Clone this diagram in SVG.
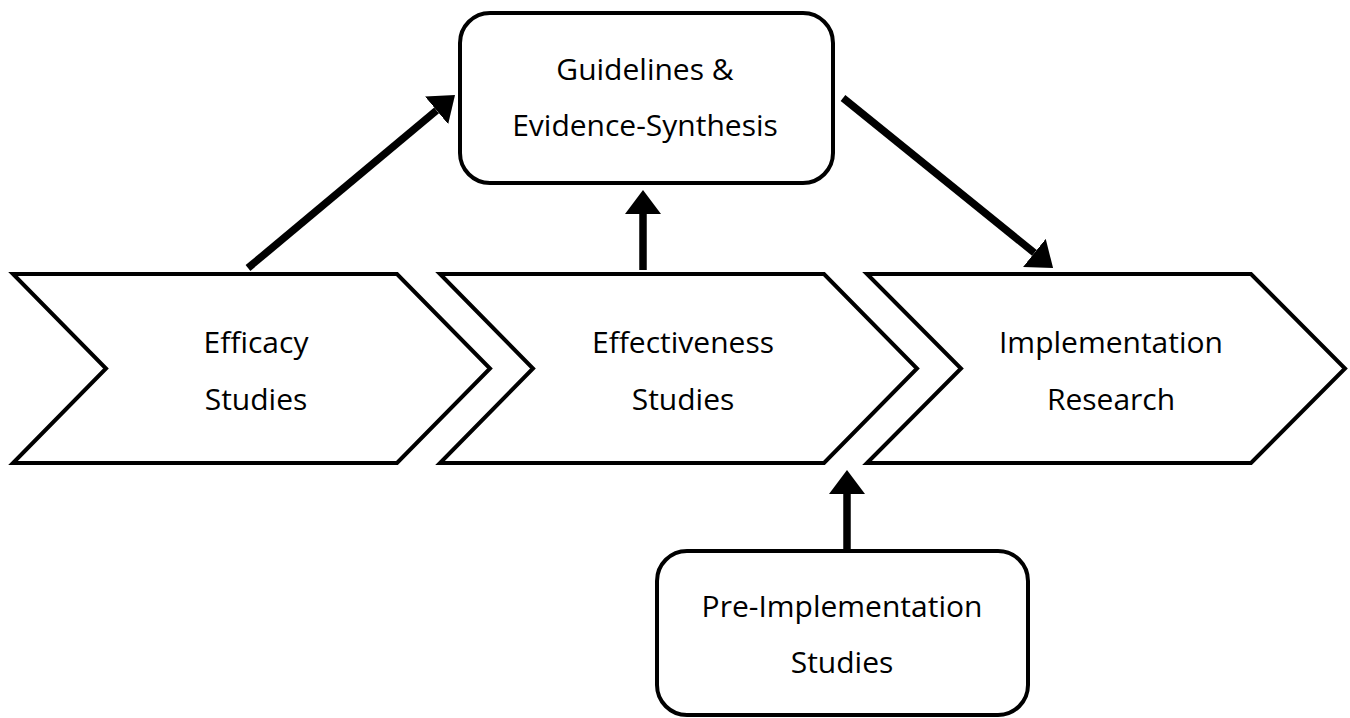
<svg xmlns="http://www.w3.org/2000/svg" width="1350" height="718" viewBox="0 0 1350 718">
<style>
.shape{fill:#fff;stroke:#000;stroke-width:4;stroke-linejoin:miter}
.box{fill:#fff;stroke:#000;stroke-width:4}
.lbl{font-family:"Open Sans","Liberation Sans",sans-serif;font-size:30px;fill:#000;text-anchor:middle}
.conn{stroke:#000;stroke-width:7.5;fill:none}
</style>
<defs>
<marker id="ah" markerUnits="userSpaceOnUse" viewBox="0 0 24 36" markerWidth="24" markerHeight="36" refX="0" refY="18" orient="auto">
<path d="M0,0 L24,18 L0,36 z" fill="#000"/>
</marker>
</defs>
<rect width="1350" height="718" fill="#fff"/>
<g id="efficacy">
<polygon class="shape" points="13,274 397,274 490,368.5 397,463 13,463 106,368.5"/>
<text class="lbl" x="256" y="353">Efficacy</text>
<text class="lbl" x="256" y="410">Studies</text>
</g>
<g id="effectiveness">
<polygon class="shape" points="440,274 824,274 917,368.5 824,463 440,463 533,368.5"/>
<text class="lbl" x="683" y="353">Effectiveness</text>
<text class="lbl" x="683" y="410">Studies</text>
</g>
<g id="implementation">
<polygon class="shape" points="867,274 1251,274 1345,368.5 1251,463 867,463 961,368.5"/>
<text class="lbl" x="1111" y="353">Implementation</text>
<text class="lbl" x="1111" y="410">Research</text>
</g>
<g id="guidelines">
<rect class="box" x="460" y="13" width="373" height="170" rx="30" ry="30"/>
<text class="lbl" x="645" y="80">Guidelines &amp;</text>
<text class="lbl" x="645" y="136">Evidence-Synthesis</text>
</g>
<g id="preimplementation">
<rect class="box" x="657" y="551" width="371" height="164" rx="30" ry="30"/>
<text class="lbl" x="842" y="617">Pre-Implementation</text>
<text class="lbl" x="842" y="673">Studies</text>
</g>
<g id="connectors">
<line class="conn" x1="248" y1="268" x2="436.6" y2="110.4" marker-end="url(#ah)"/>
<line class="conn" x1="643" y1="270" x2="643" y2="214" marker-end="url(#ah)"/>
<line class="conn" x1="843" y1="98" x2="1034.4" y2="252.9" marker-end="url(#ah)"/>
<line class="conn" x1="847" y1="550" x2="847" y2="494" marker-end="url(#ah)"/>
</g>
</svg>
